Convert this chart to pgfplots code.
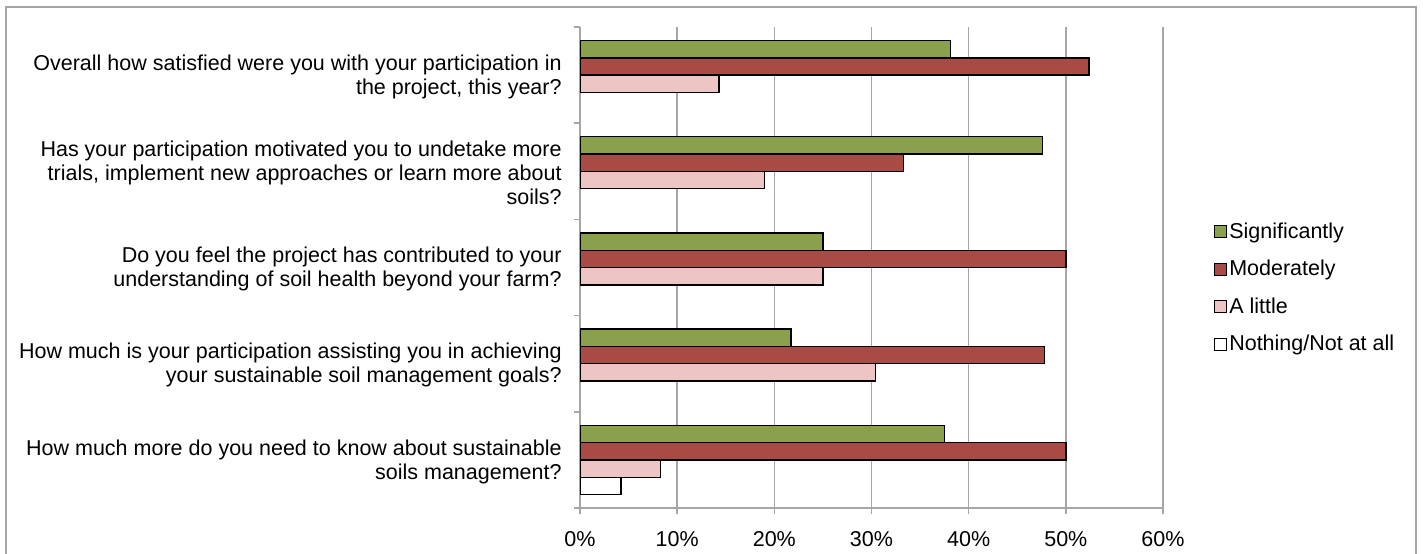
\documentclass[border=0pt]{standalone}
\usepackage{pgfplots}
\pgfplotsset{compat=1.18}
\usepackage{fontspec}
\setmainfont{Liberation Sans}
\definecolor{cgreen}{RGB}{138,160,76}
\definecolor{cred}{RGB}{168,75,69}
\definecolor{cpink}{RGB}{236,197,196}
\definecolor{cgrid}{RGB}{166,166,166}
\begin{document}
\begin{tikzpicture}
\path[use as bounding box] (0pt,0pt) rectangle (711.5pt,276.5pt);
\draw[cgrid, line width=1pt] (3pt,-5pt) rectangle (707.75pt,273pt);
\begin{axis}[
  at={(290pt,22.5pt)}, anchor=south west, scale only axis,
  width=291.5pt, height=240.5pt,
  xbar=0pt, bar width=8.65pt,
  xmin=0, xmax=60, ymin=-0.5, ymax=4.5, y dir=reverse,
  axis x line*=bottom, axis y line*=left,
  axis line style={draw=cgrid, line width=0.8pt},
  xtick={0,10,20,30,40,50,60},
  xticklabel={\pgfmathprintnumber{\tick}\%},
  /pgf/number format/assume math mode=true,
  xmajorgrids, major grid style={cgrid, line width=0.75pt},
  tick align=outside, major tick length=3pt, minor tick length=3pt,
  major x tick style={cgrid, line width=0.75pt},
  major y tick style={draw=none},
  minor y tick style={cgrid, line width=0.75pt},
  ytick={0,1,2,3,4},
  minor ytick={-0.5,0.5,1.5,2.5,3.5,4.5},
  yticklabels={
    {Overall how satisfied were you with your participation in\\the project, this year?},
    {Has your participation motivated you to undetake more\\trials, implement new approaches or learn more about\\soils?},
    {Do you feel the project has contributed to your\\understanding of soil health beyond your farm?},
    {How much is your participation assisting you in achieving\\your sustainable soil management goals?},
    {How much more do you need to know about sustainable\\soils management?}},
  yticklabel style={align=right, font=\fontsize{10.75}{12}\selectfont, inner sep=0pt, xshift=-6pt, yshift=-0.8pt},
  xticklabel style={font=\fontsize{10.75}{12}\selectfont, yshift=-5pt},
  legend image code/.code={\draw[#1, draw=black, line width=0.5pt] (0pt,-3pt) rectangle (6pt,3pt);},
  legend style={at={(1.077,0.457)}, anchor=west, draw=none, fill=none,
    font=\fontsize{10.75}{12}\selectfont, row sep=7.5pt,
    nodes={inner sep=1pt}},
  legend cell align=left,
  every axis plot/.append style={draw=black, line width=0.7pt},
]
\addplot[fill=cgreen, bar shift=12.975pt] coordinates {(38.1,0) (47.6,1) (25.0,2) (21.7,3) (37.5,4)};
\addplot[fill=cred, bar shift=4.325pt] coordinates {(52.4,0) (33.3,1) (50.0,2) (47.8,3) (50.0,4)};
\addplot[fill=cpink, bar shift=-4.325pt] coordinates {(14.3,0) (19.0,1) (25.0,2) (30.4,3) (8.3,4)};
\addplot[fill=white, bar shift=-12.975pt] coordinates {(4.2,4)};
\legend{Significantly, Moderately, A little, Nothing/Not at all}
\end{axis}
\end{tikzpicture}
\end{document}
